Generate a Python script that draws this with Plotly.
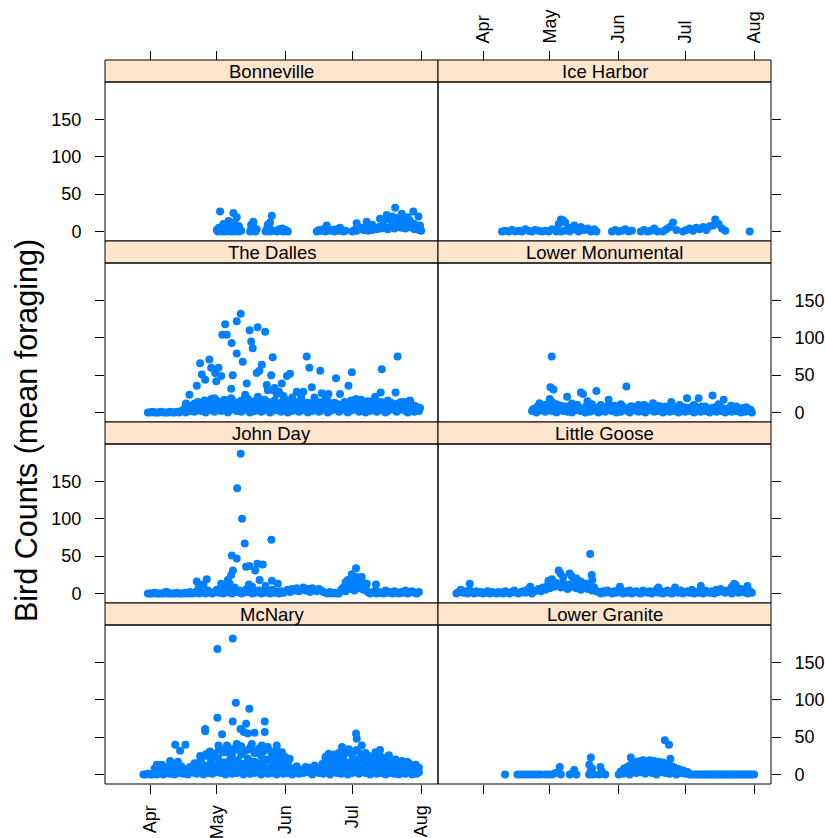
import plotly.graph_objects as go
import pandas as pd

# ---------------- data (day offsets from 1 April, bird counts) ----------------
months = ["Apr", "May", "Jun", "Jul", "Aug"]
month_dates = ["2014-04-01", "2014-05-01", "2014-06-01", "2014-07-01", "2014-08-01"]
y_ticks = [0, 50, 100, 150]
dams = ["Bonneville", "Ice Harbor", "The Dalles", "Lower Monumental",
        "John Day", "Little Goose", "McNary", "Lower Granite"]

# Bonneville
bon_day = [30, 30.5, 31, 31.5, 32, 32.5, 33, 33.5, 34, 34.5, 35, 35.5, 36, 36.5, 37, 37.5, 38, 38.5, 39, 39.5, 40, 40.5, 41,
           31.5, 33, 35.3, 36, 37.5, 38, 39, 40,
           45, 45.5, 46, 46.5, 47, 47.5, 48, 45.5, 46.5, 46.8,
           52, 52.5, 53, 53.5, 54, 54.5, 55, 53, 54, 54.8,
           57, 58, 59, 59.5, 60, 61, 62,
           75, 76, 77, 78, 79, 80, 81, 82, 83, 84, 85, 86, 87, 88, 79.5, 85.5,
           91, 92, 93, 94, 95, 96, 97, 98, 99, 100, 101, 102, 103, 104, 105, 106, 107, 108, 109, 110,
           111, 112, 113, 114, 115, 116, 117, 118, 119, 120, 121, 122,
           93, 97.5, 100, 103.5, 105, 106.5, 108, 109, 110.3, 111, 112, 113.3, 114, 115, 116, 117, 118.5, 119, 120.8, 121.5]
bon_val = [2, 0, 5, 1, 3, 0, 6, 2, 0, 4, 1, 7, 3, 0, 2, 5, 0, 3, 1, 6, 0, 2, 1,
           27, 10, 14, 8, 25, 12, 19, 7,
           0, 4, 1, 6, 2, 0, 3, 9, 13, 5,
           0, 3, 1, 5, 0, 2, 1, 9, 12, 21,
           0, 3, 1, 4, 0, 2, 0,
           0, 2, 1, 3, 0, 4, 1, 2, 0, 3, 1, 2, 0, 1, 8, 5,
           0, 2, 1, 3, 5, 2, 4, 1, 3, 2, 5, 3, 6, 4, 7, 5, 3, 6, 8, 4,
           9, 6, 5, 7, 4, 8, 6, 5, 3, 4, 2, 1,
           11, 13, 9, 17, 14, 22, 16, 20, 32, 18, 12, 24, 15, 11, 19, 14, 27, 10, 20, 8]

# Ice Harbor
ice_day = [8.5, 10, 11.5, 13, 14.5, 16, 17.5, 19, 20.5, 22, 23.5, 25, 26.5,
           28, 29.5, 31, 32.5, 34, 35, 36, 37, 38.5, 40, 41, 42, 33, 35, 36.5, 39,
           43, 44, 45.5, 47, 48.5, 50, 51,
           58, 59.5, 61, 62.5, 64, 65.5, 67,
           71, 72.5, 74, 75.5, 77, 78.5,
           81, 82.5, 84, 85.5, 87,
           90, 91.5, 93, 94.5, 96, 97.5, 99, 100.5, 102, 103.5, 104.5, 106, 107.5, 109,
           120]
ice_val = [0, 1, 0, 2, 0, 1, 0, 3, 1, 0, 2, 1, 0,
           1, 0, 3, 2, 10, 16, 15, 12, 5, 3, 8, 2, 0, 0, 1, 0,
           0, 6, 2, 4, 0, 3, 0,
           0, 2, 0, 1, 3, 0, 1,
           0, 2, 0, 1, 4, 0,
           0, 3, 6, 12, 2,
           0, 2, 4, 1, 5, 3, 6, 2, 7, 8, 16, 10, 4, 1,
           0]

# The Dalles
dal_base_day = list(range(-1, 122))
dal_base_val = [0, 0, 1, 0, 0, 0, 1, 0, 0, 0, 1, 0, 0, 1, 0, 2,
                3, 0, 5, 2, 6, 1, 4, 7, 2, 5, 0, 8, 3, 6, 1, 4, 9, 2, 5, 7, 0, 3, 6, 8, 2, 4, 1, 7, 5, 3,
                0, 6, 2, 8, 4, 1, 5, 3, 7, 0, 2, 6, 4, 8, 1, 5, 3, 0, 7, 2,
                4, 6, 1, 8, 3, 5, 0, 7, 2, 4, 6, 1, 3, 8, 5, 0, 2, 7, 4, 6,
                1, 3, 5, 8, 0, 2, 6, 4, 7, 1, 3, 5, 0, 8, 2, 6, 4, 1, 7, 3,
                5, 0, 2, 6, 8, 4, 1, 3, 5, 7, 2, 0, 4, 6, 1, 3, 2]
dal_fill_day = [15.5, 17.5, 19.5, 21.5, 23.5, 25.5, 27.5, 29.5, 31.5, 33.5, 35.5, 37.5, 39.5, 41.5, 43.5, 45.5,
                47.5, 49.5, 51.5, 53.5, 55.5, 57.5, 59.5, 61.5, 63.5, 65.5, 67.5, 69.5, 71.5, 73.5, 75.5, 77.5,
                79.5, 81.5, 83.5, 85.5, 87.5, 89.5, 91.5, 93.5, 95.5, 97.5, 99.5, 101.5, 103.5, 105.5, 107.5,
                109.5, 111.5, 113.5, 115.5, 117.5, 119.5, 121.5]
dal_fill_val = [5, 9, 3, 11, 7, 4, 10, 6, 12, 8, 3, 9, 5, 11, 7, 10, 4, 8, 12, 6,
                9, 3, 11, 7, 5, 10, 8, 4, 12, 6, 9, 5, 11, 3, 8, 10, 6, 12, 4, 7,
                9, 5, 10, 3, 8, 6, 11, 4, 7, 9, 5, 8, 3, 6]
dal_mid_day = [16, 18, 20, 21.5, 23, 24.5, 26, 27.5, 29, 30.5, 32, 33.5, 35, 36.5, 38, 39.5, 41, 42.5, 44, 45.5,
               47, 48.5, 50, 51.5, 53, 54.5, 56, 57.5, 59, 60.5, 62, 63.5, 65, 66.5, 68, 69.5, 71, 72.5, 74, 75.5,
               77, 78.5, 80, 81.5, 83, 84.5, 86, 87.5, 89, 90.5, 92, 93.5, 95, 96.5, 98, 99.5, 101, 102.5, 104, 105.5,
               107, 108.5, 110, 111.5, 113, 114.5, 116, 117.5, 119, 120.5]
dal_mid_val = [10, 6, 12, 14, 9, 16, 11, 18, 13, 15, 10, 17, 12, 19, 14, 11, 16, 13, 18, 10,
               15, 20, 12, 17, 14, 11, 16, 9, 13, 18, 12, 15, 10, 14, 17, 11, 13, 9, 16, 12,
               14, 10, 15, 8, 13, 11, 9, 14, 12, 16, 10, 13, 8, 11, 15, 9, 12, 10, 14, 8,
               11, 13, 9, 12, 10, 14, 8, 11, 9, 7]
dal_out_day = [40.8, 39, 33.8, 32.5, 34.5, 36.7, 39, 41.7, 44.8, 48.4, 51.8, 45.5, 46.2, 55.2, 50.3,
               48, 49.2, 22.5, 26.7, 27.5, 30.8, 29.3, 23.3, 24.8, 29.8, 32, 37.2, 43.5, 36.5, 21,
               17.7, 29, 42.8, 48.5, 54.5, 52.5, 55.5, 59.3, 61.6, 63, 70.5, 71.7, 76.6, 66, 69,
               72.8, 77.3, 80.3, 83.7, 85.5, 89.3, 90.8, 92.7, 101.3, 104.3, 103.8, 110.5, 111.4, 16.2, 121,
               53, 56, 58, 57, 60, 64, 68, 74, 79, 95, 100, 107, 113, 117]
dal_out_val = [132, 122, 118, 104, 104, 93, 79, 68, 110, 114, 108, 95, 86, 74, 64,
               53, 56, 66, 71, 60, 60, 53, 51, 44, 42, 49, 50, 39, 32, 36,
               24, 19, 24, 21, 50, 37, 30, 39, 49, 52, 75, 60, 56, 28, 28,
               34, 26, 25, 46, 25, 36, 54, 18, 21, 58, 27, 27, 75, 12, 6,
               30, 33, 28, 25, 22, 20, 22, 20, 18, 17, 15, 16, 14, 16]

# Lower Monumental
lm_base_day = list(range(22, 122))
lm_base_val = [2, 5, 0, 8, 3, 6, 1, 4, 7, 2, 5, 0, 3, 6, 2, 8, 1, 4, 0, 5,
               3, 7, 2, 4, 0, 6, 1, 3, 5, 2, 0, 4, 7, 1, 3, 6, 2, 5, 0, 3,
               1, 4, 6, 2, 0, 5, 3, 7, 1, 4, 2, 0, 6, 3, 5, 1, 4, 2, 7, 0,
               3, 5, 1, 6, 2, 4, 0, 3, 5, 1, 6, 2, 4, 0, 7, 3, 1, 5, 2, 4,
               0, 6, 3, 1, 5, 2, 4, 0, 3, 6, 1, 4, 2, 5, 0, 3, 1, 2, 4, 0]
lm_fill_day = [22.5, 24.5, 26.5, 28.5, 30.5, 32.5, 34.5, 36.5, 38.5, 40.5, 42.5, 44.5, 46.5, 48.5, 50.5, 52.5,
               54.5, 56.5, 58.5, 60.5, 62.5, 64.5, 66.5, 68.5, 70.5, 72.5, 74.5, 76.5, 78.5, 80.5, 82.5, 84.5,
               86.5, 88.5, 90.5, 92.5, 94.5, 96.5, 98.5, 100.5, 102.5, 104.5, 106.5, 108.5, 110.5, 112.5, 114.5,
               116.5, 118.5, 120.5]
lm_fill_val = [4, 8, 6, 10, 5, 9, 7, 3, 8, 6, 10, 4, 9, 7, 5, 8, 6, 10, 3, 7,
               9, 5, 8, 4, 6, 10, 7, 3, 9, 5, 8, 6, 4, 10, 7, 5, 9, 3, 8, 6,
               4, 7, 9, 5, 3, 8, 6, 4, 7, 3]
lm_mid_day = [25.4, 28, 30, 31, 33, 35, 37.8, 40, 42, 44, 45, 47, 49, 51, 53, 56.5, 59, 62, 64.5, 67,
              70, 73, 76.5, 80, 84.7, 88, 91.8, 95, 97, 100, 103.3, 106, 108.3, 111.6, 114, 117,
              30.9, 30.3, 31.7]
lm_mid_val = [12.5, 10, 18, 14, 11, 9, 21, 12, 10, 27, 25, 15, 11, 29, 10, 17, 9, 11, 35, 8,
              10, 9, 12.5, 8, 14, 9, 19, 10, 19, 8, 23, 11, 17, 9, 8, 6,
              75, 34, 31]

# John Day
jd_base_day = list(range(-1, 122))
jd_base_val = [0, 0, 0, 1, 0, 0, 0, 0, 2, 0, 0, 0, 0, 1, 0, 0,
               0, 1, 0, 2, 0, 1, 3, 0, 2, 1, 0, 4, 1, 0, 2, 5, 1, 3, 0, 2, 6, 1, 0, 3, 2, 4, 0, 1, 5, 2,
               3, 0, 1, 2, 4, 0, 3, 1, 2, 0, 5, 1, 2, 0, 3, 1,
               3, 5, 2, 6, 4, 7, 3, 5, 8, 4, 6, 2, 7, 5, 3, 6, 4, 2,
               1, 0, 2, 0, 1, 0, 0,
               5, 8, 3, 10, 6, 12, 4, 9, 7, 11, 5, 8,
               2, 0, 1, 3, 0, 2, 1, 0, 4, 1, 2, 0, 3, 1, 0, 2, 1, 4, 0, 2, 3, 1, 0, 2]
jd_out_day = [40.8, 39.2, 41.4, 42.6, 54.6, 36.8, 39, 43.2, 44.7, 47.3, 48.3, 50.7, 37.3, 36.5, 35.8,
              21, 25.5, 32, 44.5, 49.3, 54.8, 57.5, 92.7, 90.8, 95.3, 97.5, 101.7, 7.5,
              22, 24, 33, 35, 38, 46, 52, 88, 89, 91, 93, 94, 96]
jd_out_val = [187, 141, 100, 67, 72, 51, 47, 36, 37, 31, 40, 39, 31, 25, 13,
              16, 19, 13, 12, 18, 17, 13, 34, 26, 22, 13, 12, 2,
              10, 12, 9, 18, 8, 9, 10, 15, 18, 20, 22, 16, 14]

# Little Goose
lgo_base_day = list(range(-12, 122))
lgo_base_val = [0, 2, 5, 1, 3, 0, 4, 2, 0, 3, 1, 2,
                0, 1, 3, 0, 2, 1, 0, 2, 1, 0, 3, 1, 0, 2, 4, 1, 0, 2, 3, 1, 5, 2, 0, 3,
                4, 6, 3, 8, 5, 10, 7, 12, 9, 14, 11, 8, 15, 10, 6, 12, 9, 14, 7, 11, 5, 9, 13, 6, 10, 4, 8, 3,
                2, 0, 3, 1, 4, 2, 0, 3, 1, 5, 2, 0, 3, 1, 4, 0, 2, 3, 1, 0,
                4, 2, 1, 3, 0, 2, 5, 1, 3, 0, 2, 4, 1, 0, 3, 2, 1, 4, 0, 2,
                3, 1, 5, 0, 2, 1, 3, 0, 4, 2, 1, 3, 0, 5, 2, 6, 3, 1, 4, 2,
                0, 5, 3, 1, 6, 2, 4, 0, 3, 1]
lgo_out_day = [48.2, 34, 34.8, 39, 40, 48.9, 46.7, 49.2, -6, 21.2, 29.4, 61.6, 78.9, 86.4, 98,
               113, 119, 36, 42, 44, 31, 113.8, 112]
lgo_out_val = [53, 31, 27, 27, 23, 25, 13, 18, 13, 9, 17, 9, 8, 8, 10,
               13, 10, 22, 20, 16, 19, 11, 9]

# McNary
mc_base_day = list(range(-3, 122))
mc_base_val = [0, 0, 1, 0, 0, 2, 0, 1, 3, 0, 5, 2, 1, 4, 0, 3, 2, 6, 1, 4, 0, 3, 5, 2, 1, 6, 3, 0, 4, 2,
               7, 1, 5, 3, 8, 2, 4, 0, 6, 3, 1, 5, 2, 7, 4, 0, 3, 6, 1, 5,
               2, 8, 4, 0, 3, 6, 1, 5, 2, 7, 0, 4, 3, 1, 6, 2, 5, 0, 3, 4,
               1, 6, 2, 8, 3, 5, 0, 4, 7, 2, 6, 1, 3, 5, 0, 8, 4, 2, 6, 1,
               3, 7, 0, 5, 2, 4, 6, 1, 3, 8, 2, 5, 0, 4, 6, 1, 3, 2, 5, 0,
               4, 2, 6, 1, 3, 0, 2, 5, 1, 3, 4, 0, 2, 1, 3]
mc_mid_day = [2, 4, 6, 8, 10, 12, 14, 16, 18, 20,
              21.5, 23, 24.5, 26, 27.5, 29, 30.5, 32, 33.5, 35, 36.5, 38, 39.5, 41, 42.5, 44, 45.5, 47, 48.5, 50,
              51.5, 53, 54.5, 56, 57.5, 59, 60.5, 62,
              64, 66, 68, 70, 72, 74, 76,
              77.5, 79, 80.5, 82, 83.5, 85, 86.5, 88, 89.5, 91, 92.5, 94, 95.5, 97, 98.5, 100, 101.5, 103, 104.5, 106,
              107.5, 109, 110.5, 112, 113.5, 115, 116.5, 118, 119.5, 121]
mc_mid_val = [8, 12, 6, 10, 14, 9, 11, 7, 10, 12,
              15, 20, 12, 25, 18, 28, 22, 33, 16, 30, 24, 35, 19, 27, 32, 21, 34, 17, 29, 25,
              36, 20, 31, 23, 28, 18, 24, 15,
              8, 11, 6, 10, 9, 12, 7,
              14, 20, 12, 24, 18, 27, 22, 30, 16, 26, 32, 20, 28, 17, 25, 21, 30, 15, 23, 19,
              26, 14, 20, 12, 18, 10, 15, 11, 13, 9]
mc_fill_day = [24, 25.5, 27, 28.5, 30, 31.5, 33, 34.5, 36, 37.5, 39, 40.5, 42, 43.5, 45, 46.5, 48, 49.5, 51, 52.5,
               54, 55.5, 57, 58.5, 60,
               78, 79.5, 81, 82.5, 84, 85.5, 87, 88.5, 90, 91.5, 93, 94.5, 96, 97.5, 99, 100.5, 102, 103.5, 105, 106.5,
               108, 109.5]
mc_fill_val = [6, 10, 14, 8, 12, 17, 9, 13, 20, 11, 16, 8, 14, 10, 18, 12, 7, 15, 11, 19,
               9, 13, 16, 10, 12,
               8, 12, 15, 10, 7, 13, 18, 11, 9, 16, 14, 20, 10, 12, 8, 15, 11, 9, 13, 7,
               10, 8]
mc_top_day = [25, 27, 29, 31, 33, 35, 37, 39, 41, 43, 45, 47, 49, 51, 53, 55, 57, 59, 61,
              79, 81, 83, 85, 87, 89, 91, 93, 95, 97, 99, 101, 103, 105]
mc_top_val = [27, 31, 25, 35, 30, 37, 28, 34, 38, 32, 36, 29, 35, 31, 37, 27, 33, 26, 22,
              24, 20, 27, 29, 25, 30, 28, 33, 26, 29, 22, 25, 27, 21]
mc_out_day = [37.2, 30.3, 38.6, 44.7, 30.3, 37.2, 43.2, 51.6, 24.8, 24.8, 32.4, 40.7, 42.2, 44, 47,
              51.6, 11.3, 13.5, 15.9, 9, 12.5, 3, 5.3, 20, 22.5, 26.3, 30.8, 34.5, 39, 45.8,
              50.3, 57, 59.3, 62.8, 92.7, 93, 95.3, 103.5, 86.4, 89.4, 80.4, 97, 101.5, 109, 115.7]
mc_out_val = [182, 168, 96, 88, 76, 71, 68, 71, 61, 58, 54, 61, 57, 55, 56,
              57, 40, 32, 40, 18, 17, 13, 13, 15, 25, 29, 39, 39, 41, 41,
              39, 39, 30, 21, 55, 48, 39, 33, 37, 34, 28, 25, 23, 17, 17]

# Lower Granite
lg_a_day = [9.9, 15.5, 17, 18.5, 20, 21.5, 23, 24.5, 26, 28, 29.5, 31, 32.5, 34, 35, 34.5, 39, 40.5, 42, 41,
            47.7, 48.5, 49.5, 48.5, 47.8, 49, 52.2, 53.5, 55, 52.8, 66.5, 81.8, 83.7, 84.3]
lg_a_val = [0, 0, 0, 0, 0, 0, 0, 0, 0, 0, 0, 0, 2, 3, 0, 10, 0, 2, 0, 6,
            0, 5, 0, 23, 13, 8, 0, 4, 0, 10, 23, 46, 40, 21]
lg_base_day = list(range(61, 94))
lg_base_val = [0, 3, 1, 5, 2, 0, 4, 6, 2, 8, 3, 5, 1, 7, 4, 2, 6, 0, 5, 3, 7, 2, 4, 1, 6, 3, 0, 5, 2, 4, 1, 3, 0]
lg_mid_day = [62, 63.5, 65, 66, 67, 68, 69, 70, 71, 72, 73, 74, 75, 76, 77, 78, 79, 80, 81, 82, 83, 84, 85, 86,
              87, 88, 89, 90, 91, 92,
              64.5, 66.5, 68.5, 70.5, 72.5, 74.5, 76.5, 78.5, 80.5, 82.5, 84.5, 86.5, 88.5]
lg_mid_val = [4, 8, 10, 12, 14, 15, 17, 16, 18, 19, 17, 18, 19, 16, 18, 15, 17, 14, 16, 12, 13, 10, 11, 9,
              8, 7, 6, 5, 4, 3,
              6, 7, 9, 8, 10, 9, 11, 8, 10, 7, 6, 5, 3]
lg_tail_day = list(range(94, 123))
lg_tail_val = [0, 0, 0, 0, 0, 0, 0, 0, 0, 0, 0, 0, 0, 0, 0, 0, 0, 0, 0, 0, 0, 0, 0, 0, 0, 0, 0, 0, 0]

panel_data = {
    "Bonneville": (bon_day, bon_val),
    "Ice Harbor": (ice_day, ice_val),
    "The Dalles": (dal_base_day + dal_fill_day + dal_mid_day + dal_out_day,
                   dal_base_val + dal_fill_val + dal_mid_val + dal_out_val),
    "Lower Monumental": (lm_base_day + lm_fill_day + lm_mid_day, lm_base_val + lm_fill_val + lm_mid_val),
    "John Day": (jd_base_day + jd_out_day, jd_base_val + jd_out_val),
    "Little Goose": (lgo_base_day + lgo_out_day, lgo_base_val + lgo_out_val),
    "McNary": (mc_base_day + mc_mid_day + mc_fill_day + mc_top_day + mc_out_day,
               mc_base_val + mc_mid_val + mc_fill_val + mc_top_val + mc_out_val),
    "Lower Granite": (lg_a_day + lg_base_day + lg_mid_day + lg_tail_day,
                      lg_a_val + lg_base_val + lg_mid_val + lg_tail_val),
}
for k, (d, v) in panel_data.items():
    assert len(d) == len(v), (k, len(d), len(v))

# ---------------- layout geometry (pixels) ----------------
W, H = 825, 838
col_x = [(105, 438), (438, 771)]
row_top = [60, 241, 422, 603]
row_h = 181
strip_h = 22
base = pd.Timestamp("2014-04-01")
x_range = [base + pd.Timedelta(days=-20.3), base + pd.Timedelta(days=129.6)]
y_range = [-12.6, 200]
FONT = "Liberation Sans, Arial, sans-serif"
INK = "#000000"
tickfont = dict(family=FONT, size=18, color=INK)


def fx(px):
    return px / W


def fy(py):
    return 1 - py / H


fig = go.Figure()
shapes = []
annotations = []
layout = {}

for i, name in enumerate(dams):
    r, c = divmod(i, 2)
    n = i + 1
    xs = "" if n == 1 else str(n)
    d, v = panel_data[name]
    dates = [base + pd.Timedelta(days=float(t)) for t in d]
    fig.add_trace(go.Scatter(
        x=dates, y=v, mode="markers",
        marker=dict(color="#0080FF", size=8, line=dict(width=0)),
        xaxis="x" + xs, yaxis="y" + xs, showlegend=False, hoverinfo="skip"))

    x0, x1 = col_x[c]
    top = row_top[r]
    ptop = top + strip_h
    pbot = top + row_h

    xa = dict(domain=[fx(x0), fx(x1)], range=x_range, type="date",
              tickmode="array", tickvals=month_dates, ticktext=months,
              tickangle=-90, tickfont=tickfont, showgrid=False, zeroline=False,
              showline=False, ticklen=9, tickwidth=1, tickcolor=INK,
              ticklabelstandoff=4, fixedrange=True)
    if r == 0:
        xa.update(side="top", anchor="free", position=fy(top), ticks="outside",
                  showticklabels=(c == 1))
    elif r == 3:
        xa.update(side="bottom", anchor="y" + xs, ticks="outside",
                  showticklabels=(c == 0))
    else:
        xa.update(anchor="y" + xs, ticks="", showticklabels=False)
    layout["xaxis" + xs] = xa

    ya = dict(domain=[fy(pbot), fy(ptop)], range=y_range, anchor="x" + xs,
              tickmode="array", tickvals=y_ticks, tickfont=tickfont,
              showgrid=False, zeroline=False, showline=False,
              ticks="outside", ticklen=9, tickwidth=1, tickcolor=INK,
              ticklabelstandoff=10, fixedrange=True)
    if c == 0:
        ya.update(side="left", showticklabels=(r in (0, 2)))
    else:
        ya.update(side="right", showticklabels=(r in (1, 3)))
    layout["yaxis" + xs] = ya

    # strip
    shapes.append(dict(type="rect", xref="paper", yref="paper",
                       x0=fx(x0), x1=fx(x1), y0=fy(ptop), y1=fy(top),
                       fillcolor="#FFE5CC", line=dict(color=INK, width=1), layer="above"))
    # panel border
    shapes.append(dict(type="rect", xref="paper", yref="paper",
                       x0=fx(x0), x1=fx(x1), y0=fy(pbot), y1=fy(ptop),
                       fillcolor="rgba(0,0,0,0)", line=dict(color=INK, width=1), layer="above"))
    annotations.append(dict(text=name, xref="paper", yref="paper",
                            x=fx((x0 + x1) / 2), y=fy(top + strip_h / 2 + 0.5),
                            xanchor="center", yanchor="middle", showarrow=False,
                            font=dict(family=FONT, size=18.5, color=INK)))

annotations.append(dict(text="Bird Counts (mean foraging)", xref="paper", yref="paper",
                        x=fx(27), y=fy(431), xanchor="center", yanchor="middle",
                        textangle=-90, showarrow=False,
                        font=dict(family=FONT, size=30.5, color=INK)))

fig.update_layout(width=W, height=H, margin=dict(l=0, r=0, t=0, b=0),
                  paper_bgcolor="white", plot_bgcolor="white",
                  shapes=shapes, annotations=annotations, **layout)

fig.write_html("out.html")
